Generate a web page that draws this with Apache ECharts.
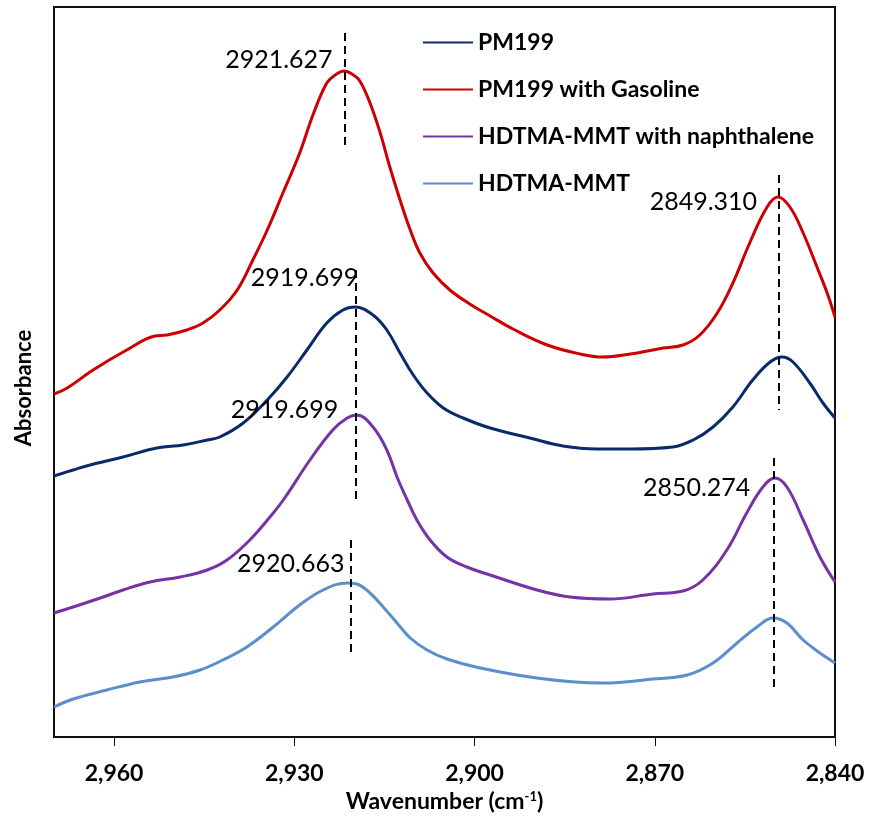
<!DOCTYPE html>
<html>
<head>
<meta charset="utf-8">
<script src="https://cdn.jsdelivr.net/npm/echarts@6/dist/echarts.min.js"></script>
<style>
html,body{margin:0;padding:0;background:#fff;}
#chart{width:870px;height:820px;}
</style>
</head>
<body>
<div id="chart"></div>
<script>
// ---- data (wavenumber cm-1, absorbance in arbitrary offset units) ----
const seriesNames = ['PM199', 'PM199 with Gasoline', 'HDTMA-MMT with naphthalene', 'HDTMA-MMT'];

const pm199 = [
  [2970,2.61],[2966.8,2.67],[2964.0,2.72],[2958.5,2.80],[2952.9,2.89],[2948.5,2.92],[2944.5,2.97],
  [2942.4,3.00],[2938.5,3.14],[2934.5,3.37],[2931.2,3.60],[2927.9,3.87],[2924.6,4.14],[2921.9,4.27],
  [2919.9,4.30],[2916.9,4.22],[2914.6,4.07],[2912.4,3.84],[2910.2,3.62],[2907.9,3.44],[2905.2,3.29],
  [2901.9,3.19],[2897.4,3.09],[2890.8,2.99],[2885.3,2.91],[2879.6,2.88],[2874.1,2.88],[2867.0,2.90],
  [2863.6,2.97],[2860.3,3.10],[2857.0,3.30],[2853.7,3.57],[2850.8,3.75],[2848.8,3.80],[2847.0,3.75],
  [2844.2,3.54],[2842.0,3.34],[2840,3.19]
];

const pm199Gasoline = [
  [2970,3.43],[2967.8,3.49],[2963.5,3.67],[2957.9,3.87],[2953.2,4.01],[2951.2,4.02],[2947.9,4.07],
  [2945.2,4.14],[2942.4,4.27],[2939.5,4.47],[2936.9,4.77],[2934.5,5.07],[2931.9,5.44],[2929.1,5.84],
  [2926.9,6.22],[2924.6,6.54],[2923.2,6.62],[2921.7,6.66],[2920.4,6.63],[2919.1,6.56],[2917.4,6.34],
  [2915.7,6.04],[2914.1,5.70],[2912.4,5.37],[2910.7,5.07],[2909.1,4.84],[2906.9,4.64],[2904.1,4.47],
  [2900.8,4.33],[2897.4,4.21],[2893.6,4.08],[2887.9,3.92],[2882.4,3.83],[2878.6,3.80],[2874.1,3.83],
  [2868.6,3.89],[2865.3,3.92],[2862.5,4.02],[2859.6,4.24],[2857.0,4.54],[2854.2,4.94],[2851.3,5.30],
  [2849.5,5.40],[2847.5,5.30],[2845.3,5.04],[2843.0,4.70],[2841.3,4.44],[2840,4.20]
];

const hdtmaNaphthalene = [
  [2970,1.24],[2966.8,1.30],[2962.3,1.39],[2958.5,1.47],[2954.0,1.55],[2949.0,1.60],[2944.5,1.67],
  [2941.2,1.77],[2937.4,1.97],[2933.5,2.24],[2931.6,2.39],[2927.4,2.77],[2923.6,3.07],[2921.2,3.19],
  [2919.6,3.22],[2916.9,3.10],[2914.6,2.87],[2912.9,2.60],[2911.2,2.37],[2909.6,2.17],[2907.4,1.97],
  [2904.6,1.80],[2901.3,1.70],[2897.4,1.62],[2889.6,1.47],[2884.1,1.40],[2877.5,1.38],[2870.3,1.43],
  [2865.3,1.46],[2862.0,1.57],[2858.0,1.87],[2854.7,2.24],[2852.0,2.50],[2850.0,2.59],[2848.0,2.50],
  [2845.3,2.17],[2842.5,1.80],[2840,1.55]
];

const hdtmaMMT = [
  [2970,0.30],[2966.8,0.38],[2961.2,0.47],[2955.7,0.55],[2950.2,0.60],[2945.7,0.67],[2941.9,0.77],
  [2937.9,0.90],[2933.5,1.10],[2929.1,1.32],[2925.2,1.47],[2921.2,1.54],[2919.6,1.53],[2917.4,1.44],
  [2915.2,1.30],[2912.9,1.14],[2910.7,0.99],[2907.9,0.87],[2904.6,0.78],[2899.1,0.69],[2889.6,0.59],
  [2878.6,0.54],[2870.3,0.58],[2864.6,0.62],[2860.3,0.74],[2856.3,0.94],[2853.0,1.10],[2850.3,1.19],
  [2848.0,1.14],[2845.3,0.97],[2842.5,0.84],[2840,0.74]
];

// peak markers: wavenumber, dashed line from yFrom to yTo
const peakLines = [
  [2921.627, 7.04, 5.91],
  [2919.699, 4.67, 2.37],
  [2920.663, 1.97, 0.84],
  [2849.310, 5.62, 3.27],
  [2850.274, 2.79, 0.47]
];
// peak labels: wavenumber, label height
const peakLabels = [
  [2921.627, 6.77],
  [2919.699, 4.59],
  [2919.699, 3.27],
  [2920.663, 1.73],
  [2849.310, 5.35],
  [2850.274, 2.49]
];
const labelShift = [-12, 2, -18, -6, -22, -23];

const tickValues = [2960, 2930, 2900, 2870, 2840];
const xMin = 2840, xMax = 2970;

const colors = ['#0B2A6A', '#CC0000', '#7434A6', '#5B8FCB'];
const FONT = 'Lato';

const chart = echarts.init(document.getElementById('chart'), null, {renderer: 'canvas'});

function lineSeries(name, data, color) {
  return {
    name: name, type: 'line', data: data, smooth: 0.4, symbol: 'none',
    lineStyle: {color: color, width: 3}, itemStyle: {color: color},
    z: 3
  };
}

const option = {
  backgroundColor: '#ffffff',
  animation: false,
  grid: {left: 54, right: 35, top: 7, bottom: 83, show: true, borderColor: '#111', borderWidth: 2, containLabel: false},
  legend: {
    data: seriesNames,
    orient: 'vertical',
    left: 423, top: 29,
    padding: 0,
    itemWidth: 50, itemHeight: 14,
    itemGap: 20,
    icon: 'path://M0,6 L50,6 L50,8 L0,8 Z',
    textStyle: {fontFamily: FONT, fontWeight: 'bold', fontSize: 23, color: '#000', lineHeight: 27, padding: [0,0,0,0]}
  },
  xAxis: {
    type: 'value', inverse: true, min: xMin, max: xMax,
    name: 'Wavenumber (cm{sup|-1})',
    nameLocation: 'middle', nameGap: 53,
    nameTextStyle: {fontFamily: FONT, fontWeight: 'bold', fontSize: 23, color: '#000',
      rich: {sup: {fontFamily: FONT, fontWeight: 'bold', fontSize: 13, verticalAlign: 'top', padding: [0,0,10,0], color: '#000'}}},
    axisLine: {show: true, lineStyle: {color: '#111', width: 2}},
    axisTick: {show: true, customValues: tickValues, length: 9, lineStyle: {color: '#111', width: 1}},
    axisLabel: {show: true, customValues: tickValues, margin: 25,
      fontFamily: FONT, fontWeight: 'bold', fontSize: 23, color: '#000',
      formatter: v => Number(v).toLocaleString('en-US')},
    splitLine: {show: false}
  },
  yAxis: {
    type: 'value', min: 0, max: 7.3,
    name: 'Absorbance', nameLocation: 'middle', nameGap: 19, nameRotate: 90,
    nameTextStyle: {fontFamily: FONT, fontWeight: 'bold', fontSize: 22, color: '#000', padding: [0, 32, 0, 0]},
    axisLine: {show: true, lineStyle: {color: '#111', width: 2}},
    axisTick: {show: false}, axisLabel: {show: false}, splitLine: {show: false}
  },
  series: [
    lineSeries(seriesNames[0], pm199, colors[0]),
    lineSeries(seriesNames[1], pm199Gasoline, colors[1]),
    lineSeries(seriesNames[2], hdtmaNaphthalene, colors[2]),
    lineSeries(seriesNames[3], hdtmaMMT, colors[3]),
    {
      name: 'peaks', type: 'line', data: [], symbol: 'none', z: 4,
      markLine: {
        silent: true, symbol: ['none', 'none'], animation: false,
        label: {show: false},
        lineStyle: {color: '#000', width: 2, type: [8, 5], opacity: 1},
        data: peakLines.map(p => [{coord: [p[0], p[1]]}, {coord: [p[0], p[2]]}])
      }
    },
    {
      name: 'peakLabels', type: 'scatter', symbolSize: 0, z: 5, silent: true,
      itemStyle: {opacity: 1},
      data: peakLabels.map((p, i) => ({
        value: p,
        label: {show: true, position: 'left', distance: 0, offset: [labelShift[i], 0],
          formatter: p[0].toFixed(3), fontFamily: FONT, fontSize: 25, color: '#000', opacity: 1}
      }))
    }
  ]
};
chart.setOption(option);
</script>
</body>
</html>
